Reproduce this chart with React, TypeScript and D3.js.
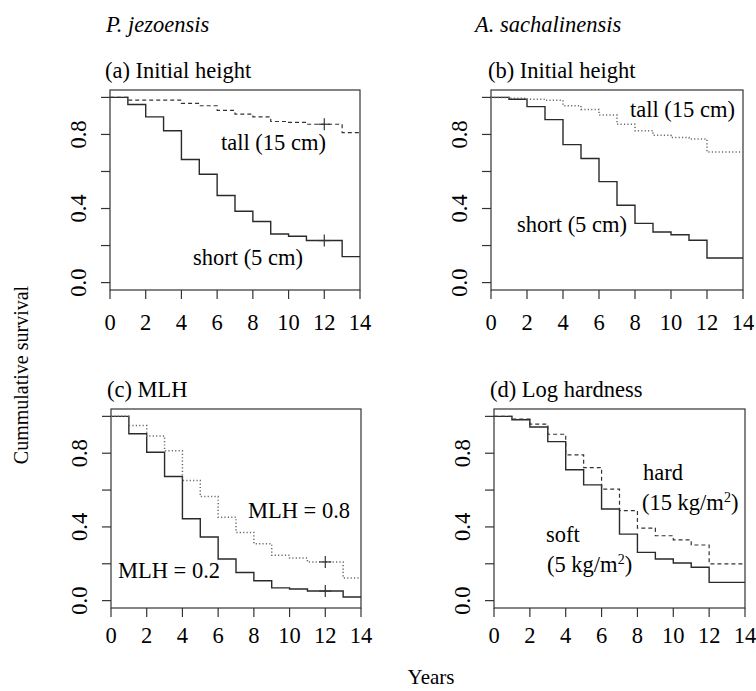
import React, { useEffect, useRef } from "react";
import * as d3 from "d3";

// years at which the step curves change (interval starts), plus the end year
const years = [0, 1, 2, 3, 4, 5, 6, 7, 8, 9, 10, 11, 12, 13, 14];
const xTicks = [0, 2, 4, 6, 8, 10, 12, 14];
const yTicks = [0, 0.2, 0.4, 0.6, 0.8, 1.0];
const yLabels = [0, 0.4, 0.8];

// survival for intervals [k, k+1), k = 0..13
const pjShort = [1.0, 0.962, 0.895, 0.82, 0.665, 0.585, 0.47, 0.385, 0.33, 0.262, 0.25, 0.227, 0.227, 0.14];
const pjTall = [1.0, 0.985, 0.985, 0.985, 0.968, 0.955, 0.93, 0.91, 0.895, 0.87, 0.865, 0.855, 0.855, 0.81];
const asShort = [1.0, 0.99, 0.95, 0.88, 0.745, 0.67, 0.545, 0.418, 0.32, 0.273, 0.258, 0.229, 0.133, 0.133];
const asTall = [1.0, 0.995, 0.99, 0.985, 0.955, 0.935, 0.905, 0.855, 0.82, 0.795, 0.783, 0.775, 0.705, 0.705];
const mlhLow = [1.0, 0.906, 0.805, 0.674, 0.444, 0.345, 0.226, 0.153, 0.108, 0.069, 0.063, 0.052, 0.052, 0.02];
const mlhHigh = [1.0, 0.95, 0.894, 0.813, 0.652, 0.565, 0.453, 0.37, 0.309, 0.246, 0.231, 0.21, 0.21, 0.123];
const logSoft = [1.0, 0.982, 0.942, 0.863, 0.71, 0.628, 0.497, 0.361, 0.262, 0.226, 0.204, 0.181, 0.099, 0.099];
const logHard = [1.0, 0.985, 0.958, 0.903, 0.791, 0.722, 0.605, 0.489, 0.394, 0.352, 0.33, 0.302, 0.199, 0.199];

const censorYear = 12;

const FONT = "'Liberation Serif', 'Times New Roman', serif";
const FS = "22.5px";

const SOLID = { color: "#2a2a2a", width: 1.4, dash: null };
const DASHED = { color: "#333", width: 1.2, dash: "4,3" };
const DOTTED = { color: "#6a6a6a", width: 1.5, dash: "1.2,2.2" };

const panels = [
  {
    title: "(a) Initial height", tx: 105, x0: 110, x1: 360, y0: 90, y1: 290, gap: 40,
    series: [{ v: pjShort, s: SOLID, censor: true }, { v: pjTall, s: DASHED, censor: true }],
    labels: [
      { t: "tall (15 cm)", x: 221, y: 150 },
      { t: "short (5 cm)", x: 193, y: 265 },
    ],
  },
  {
    title: "(b) Initial height", tx: 488, x0: 491, x1: 743, y0: 90, y1: 290, gap: 40,
    series: [{ v: asShort, s: SOLID, censor: false }, { v: asTall, s: DOTTED, censor: false }],
    labels: [
      { t: "tall (15 cm)", x: 630, y: 117 },
      { t: "short (5 cm)", x: 517, y: 232 },
    ],
  },
  {
    title: "(c) MLH", tx: 107, x0: 111, x1: 361, y0: 409, y1: 608, gap: 35,
    series: [{ v: mlhLow, s: SOLID, censor: true }, { v: mlhHigh, s: DOTTED, censor: true }],
    labels: [
      { t: "MLH = 0.8", x: 248, y: 518 },
      { t: "MLH = 0.2", x: 118, y: 578 },
    ],
  },
  {
    title: "(d) Log hardness", tx: 490, x0: 494, x1: 745, y0: 409, y1: 608, gap: 35,
    series: [{ v: logSoft, s: SOLID, censor: false }, { v: logHard, s: DASHED, censor: false }],
    labels: [
      { t: "hard", x: 643, y: 480 },
      { t: "(15 kg/m", sup: "2", end: ")", x: 642, y: 510 },
      { t: "soft", x: 546, y: 542 },
      { t: "(5 kg/m", sup: "2", end: ")", x: 547, y: 572 },
    ],
  },
];

const App = () => {
  const ref = useRef(null);

  useEffect(() => {
    const svg = d3.select(ref.current);
    svg.selectAll("*").remove();

    svg.append("rect").attr("width", 756).attr("height", 691).attr("fill", "white");

    // species headers
    svg.append("text").attr("x", 106).attr("y", 32).text("P. jezoensis")
      .style("font-style", "italic").style("font-size", FS).style("font-family", FONT).attr("fill", "#000");
    svg.append("text").attr("x", 475).attr("y", 32).text("A. sachalinensis")
      .style("font-style", "italic").style("font-size", FS).style("font-family", FONT).attr("fill", "#000");

    panels.forEach(p => {
      const x = d3.scaleLinear().domain([0, 14]).range([p.x0, p.x1]);
      const y = d3.scaleLinear().domain([-0.04, 1.04]).range([p.y1, p.y0]);
      const g = svg.append("g");

      // title
      g.append("text").attr("x", p.tx).attr("y", p.y0 - 12).text(p.title)
        .style("font-size", FS).style("font-family", FONT).attr("fill", "#000");

      // box
      g.append("rect")
        .attr("x", p.x0).attr("y", p.y0)
        .attr("width", p.x1 - p.x0).attr("height", p.y1 - p.y0)
        .attr("fill", "none").attr("stroke", "#333").attr("stroke-width", 1.2);

      // x ticks
      xTicks.forEach(t => {
        g.append("line")
          .attr("x1", x(t)).attr("x2", x(t)).attr("y1", p.y1).attr("y2", p.y1 + 9)
          .attr("stroke", "#333").attr("stroke-width", 1.2);
        g.append("text").attr("x", x(t)).attr("y", p.y1 + p.gap).text(t)
          .attr("text-anchor", "middle")
          .style("font-size", FS).style("font-family", FONT).attr("fill", "#000");
      });

      // y ticks
      yTicks.forEach(t => {
        g.append("line")
          .attr("x1", p.x0 - 9).attr("x2", p.x0).attr("y1", y(t)).attr("y2", y(t))
          .attr("stroke", "#333").attr("stroke-width", 1.2);
      });
      yLabels.forEach(t => {
        const cx = p.x0 - 31;
        g.append("text")
          .attr("x", cx).attr("y", y(t)).attr("dy", "0.33em")
          .attr("transform", `rotate(-90, ${cx}, ${y(t)})`)
          .attr("text-anchor", "middle")
          .text(d3.format(".1f")(t))
          .style("font-size", FS).style("font-family", FONT).attr("fill", "#000");
      });

      // survival curves
      const line = d3.line()
        .x(d => x(d[0]))
        .y(d => y(d[1]))
        .curve(d3.curveStepAfter);

      p.series.forEach(sr => {
        const pts = years.map((yr, i) => [yr, sr.v[Math.min(i, sr.v.length - 1)]]);
        g.append("path")
          .datum(pts)
          .attr("d", line)
          .attr("fill", "none")
          .attr("stroke", sr.s.color)
          .attr("stroke-width", sr.s.width)
          .attr("stroke-dasharray", sr.s.dash);

        if (sr.censor) {
          const cy = y(sr.v[censorYear]);
          const cx = x(censorYear);
          g.append("line").attr("x1", cx - 6).attr("x2", cx + 6).attr("y1", cy).attr("y2", cy)
            .attr("stroke", "#333").attr("stroke-width", 1.2);
          g.append("line").attr("x1", cx).attr("x2", cx).attr("y1", cy - 6).attr("y2", cy + 6)
            .attr("stroke", "#333").attr("stroke-width", 1.2);
        }
      });

      // curve labels
      p.labels.forEach(l => {
        const t = g.append("text").attr("x", l.x).attr("y", l.y)
          .style("font-size", FS).style("font-family", FONT).attr("fill", "#000");
        t.append("tspan").text(l.t);
        if (l.sup) {
          t.append("tspan").attr("dy", -8).style("font-size", "14px").text(l.sup);
          t.append("tspan").attr("dy", 8).text(l.end);
        }
      });
    });

    // shared axis titles
    svg.append("text")
      .attr("x", 21).attr("y", 375).attr("dy", "0.35em")
      .attr("transform", "rotate(-90, 21, 375)")
      .attr("text-anchor", "middle")
      .text("Cummulative survival")
      .style("font-size", "20px").style("font-family", FONT).attr("fill", "#000");

    svg.append("text")
      .attr("x", 431).attr("y", 684)
      .attr("text-anchor", "middle")
      .text("Years")
      .style("font-size", "21px").style("font-family", FONT).attr("fill", "#000");
  }, []);

  return (
    <svg ref={ref} width={756} height={691}
      style={{ position: "absolute", left: 0, top: 0, display: "block" }} />
  );
};

export default App;
